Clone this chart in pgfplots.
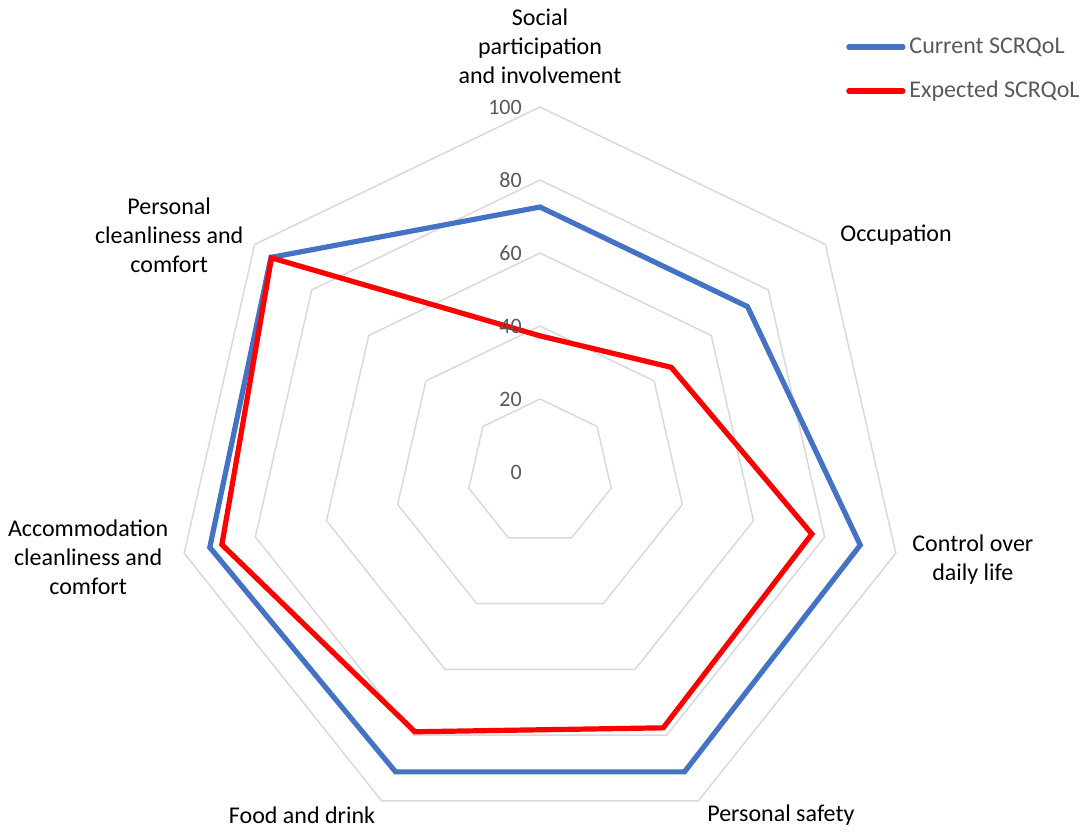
\documentclass[border=0pt]{standalone}
\usepackage{pgfplots}
\pgfplotsset{compat=1.18}
\usepackage{fontspec}
\setmainfont{Carlito}
\definecolor{curblue}{HTML}{4472C4}
\definecolor{expred}{HTML}{FF0000}
\definecolor{ringgray}{HTML}{D9D9D9}
\definecolor{txtgray}{HTML}{595959}
\tikzset{
  cat/.style={font=\fontsize{12}{14.5}\selectfont, align=center, text=black},
  tk/.style={anchor=east, text=txtgray, font=\fontsize{11}{13}\selectfont, inner sep=0pt},
  ring/.style={draw=ringgray, line width=0.75pt},
}
\begin{document}
\begin{tikzpicture}
\begin{axis}[
    x=1.825pt, y=1.825pt,
    xmin=-147.95, xmax=150.14, ymin=-98.63, ymax=129.32,
    hide axis, clip=false,
    every axis plot/.append style={data cs=polar},
    legend style={draw=none, fill=none, at={(axis cs:83.8,120.2)}, anchor=north west,
        font=\fontsize{12}{14.5}\selectfont, text=txtgray, inner sep=0pt,
        row sep=8.5pt, /tikz/every even column/.append style={column sep=0pt}},
    legend cell align=left,
    legend image code/.code={\draw[#1, line cap=round] (0pt,0pt) -- (27pt,0pt);},
  ]
  % keep the full canvas as bounding box
  \path (rel axis cs:0,0) rectangle (rel axis cs:1,1);
  % grid rings 20..100
  \addplot[ring, forget plot] coordinates {(90,20) (38.5714,20) (-12.8571,20) (-64.2857,20) (-115.7143,20) (-167.1429,20) (141.4286,20)} -- cycle;
  \addplot[ring, forget plot] coordinates {(90,40) (38.5714,40) (-12.8571,40) (-64.2857,40) (-115.7143,40) (-167.1429,40) (141.4286,40)} -- cycle;
  \addplot[ring, forget plot] coordinates {(90,60) (38.5714,60) (-12.8571,60) (-64.2857,60) (-115.7143,60) (-167.1429,60) (141.4286,60)} -- cycle;
  \addplot[ring, forget plot] coordinates {(90,80) (38.5714,80) (-12.8571,80) (-64.2857,80) (-115.7143,80) (-167.1429,80) (141.4286,80)} -- cycle;
  \addplot[ring, forget plot] coordinates {(90,100) (38.5714,100) (-12.8571,100) (-64.2857,100) (-115.7143,100) (-167.1429,100) (141.4286,100)} -- cycle;

  % Current SCRQoL
  \addplot[draw=curblue, line width=2.6pt, line join=miter] coordinates {
    (90,72.6) (38.5714,72.7) (-12.8571,90.0) (-64.2857,91.2)
    (-115.7143,91.2) (-167.1429,92.8) (141.4286,94.3)} -- cycle;
  \addlegendentry{Current SCRQoL}
  % Expected SCRQoL
  \addplot[draw=expred, line width=2.6pt, line join=miter] coordinates {
    (90,37.3) (38.5714,46.0) (-12.8571,76.4) (-64.2857,77.8)
    (-115.7143,79.0) (-167.1429,89.4) (141.4286,94.1)} -- cycle;
  \addlegendentry{Expected SCRQoL}

  % radial tick labels
  \node[tk] at (axis cs:-4.9,0) {0};
  \node[tk] at (axis cs:-4.9,20) {20};
  \node[tk] at (axis cs:-4.9,40) {40};
  \node[tk] at (axis cs:-4.9,60) {60};
  \node[tk] at (axis cs:-4.9,80) {80};
  \node[tk] at (axis cs:-4.9,100) {100};

  % category labels
  \node[cat] at (axis cs:0,116.7) {Social\\participation\\and involvement};
  \node[cat, anchor=west, inner sep=0pt] at (axis cs:82.2,64.9) {Occupation};
  \node[cat] at (axis cs:118.6,-24.1) {Control over\\daily life};
  \node[cat] at (axis cs:66.0,-94.0) {Personal safety};
  \node[cat] at (axis cs:-65.2,-94.0) {Food and drink};
  \node[cat] at (axis cs:-123.8,-23.3) {Accommodation\\cleanliness and\\comfort};
  \node[cat] at (axis cs:-101.6,64.9) {Personal\\cleanliness and\\comfort};
\end{axis}
\end{tikzpicture}
\end{document}
